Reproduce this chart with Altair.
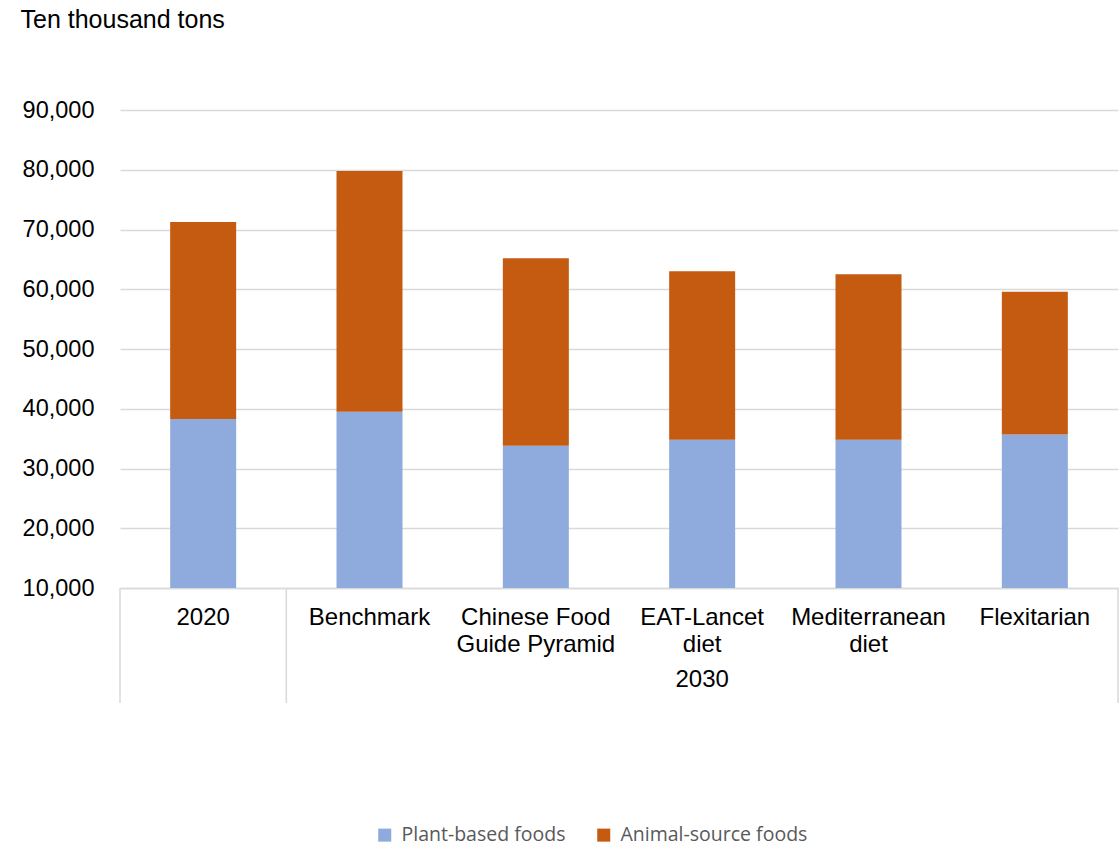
import altair as alt
import pandas as pd

# Diet scenarios (2020 baseline and 2030 scenarios)
categories = ["2020", "Benchmark", "Chinese Food Guide Pyramid",
              "EAT-Lancet diet", "Mediterranean diet", "Flexitarian"]
label_lines = ["2020", "Benchmark", "Chinese Food\nGuide Pyramid",
               "EAT-Lancet\ndiet", "Mediterranean\ndiet", "Flexitarian"]
plant_based = [38300, 39500, 33800, 34800, 34800, 35700]
animal_source = [32950, 40300, 31400, 28200, 27700, 23900]
series_names = ["Plant-based foods", "Animal-source foods"]
series_colors = ["#8FAADC", "#C55A11"]
y_ticks = [10000, 20000, 30000, 40000, 50000, 60000, 70000, 80000, 90000]

FONT = "Liberation Sans"
GRID = "#D9D9D9"

rows = []
for i, c in enumerate(categories):
    rows.append({"category": c, "series": series_names[0], "value": plant_based[i], "order": 0})
    rows.append({"category": c, "series": series_names[1], "value": animal_source[i], "order": 1})
bars_df = pd.DataFrame(rows)

labels_df = pd.DataFrame({"category": categories, "label": label_lines})

x_scale = alt.Scale(domain=categories, paddingInner=0, paddingOuter=0)

bars = alt.Chart(bars_df).mark_bar(width=66, clip=True).encode(
    x=alt.X("category:N", scale=x_scale, sort=categories,
            axis=alt.Axis(labels=False, ticks=False, title=None,
                          domainColor=GRID, domainWidth=1.5)),
    y=alt.Y("value:Q", stack="zero",
            scale=alt.Scale(domain=[10000, 90000], zero=False, nice=False),
            axis=alt.Axis(values=y_ticks, format=",d", domain=False, ticks=False,
                          gridColor=GRID, gridWidth=1.5,
                          labelFont=FONT, labelFontSize=23.5, labelColor="#000000",
                          labelPadding=26,
                          title="Ten thousand tons", titleAngle=0,
                          titleFont=FONT, titleFontSize=25, titleFontWeight="normal",
                          titleColor="#000000", titleAlign="left",
                          titleBaseline="alphabetic", titleX=-100, titleY=-83)),
    color=alt.Color("series:N",
                    scale=alt.Scale(domain=series_names, range=series_colors),
                    legend=alt.Legend(title=None, orient="none", direction="horizontal",
                                      legendX=255, legendY=715,
                                      symbolType="square", symbolSize=170,
                                      symbolStrokeWidth=0, symbolOpacity=1,
                                      labelFont="Open Sans", labelFontSize=19.5,
                                      labelColor="#595959", labelOffset=7,
                                      labelLimit=400, columnPadding=28)),
    order=alt.Order("order:Q"),
)

# First-level category labels below the axis
cat_text = alt.Chart(labels_df).mark_text(
    font=FONT, fontSize=24, color="#000000", baseline="alphabetic",
    lineBreak="\n", lineHeight=27,
).encode(
    x=alt.X("category:N", scale=x_scale, sort=categories),
    y=alt.value(515),
    text="label:N",
)

# Group separators: left edge of 2020, left edge of Benchmark, right edge of the axis
sep_left = alt.Chart(labels_df[labels_df["category"].isin(["2020", "Benchmark"])]).mark_rule(
    color=GRID, strokeWidth=1.5
).encode(
    x=alt.X("category:N", scale=x_scale, sort=categories, bandPosition=0),
    y=alt.value(478), y2=alt.value(593),
)
sep_right = alt.Chart(labels_df[labels_df["category"] == "Flexitarian"]).mark_rule(
    color=GRID, strokeWidth=1.5
).encode(
    x=alt.X("category:N", scale=x_scale, sort=categories, bandPosition=1),
    y=alt.value(478), y2=alt.value(593),
)

# Second-level group label
group_df = pd.DataFrame({"category": ["EAT-Lancet diet"], "label": ["2030"]})
group_text = alt.Chart(group_df).mark_text(
    font=FONT, fontSize=24, color="#000000", baseline="alphabetic"
).encode(
    x=alt.X("category:N", scale=x_scale, sort=categories),
    y=alt.value(577),
    text="label:N",
)

chart = alt.layer(bars, cat_text, sep_left, sep_right, group_text).properties(
    width=998, height=478,
    autosize=alt.AutoSizeParams(type="none"),
    padding={"left": 120, "top": 110, "right": 2, "bottom": 258},
    background="white",
).configure_view(stroke=None)

chart.save("out.html", embed_options={"renderer": "svg", "actions": False})
